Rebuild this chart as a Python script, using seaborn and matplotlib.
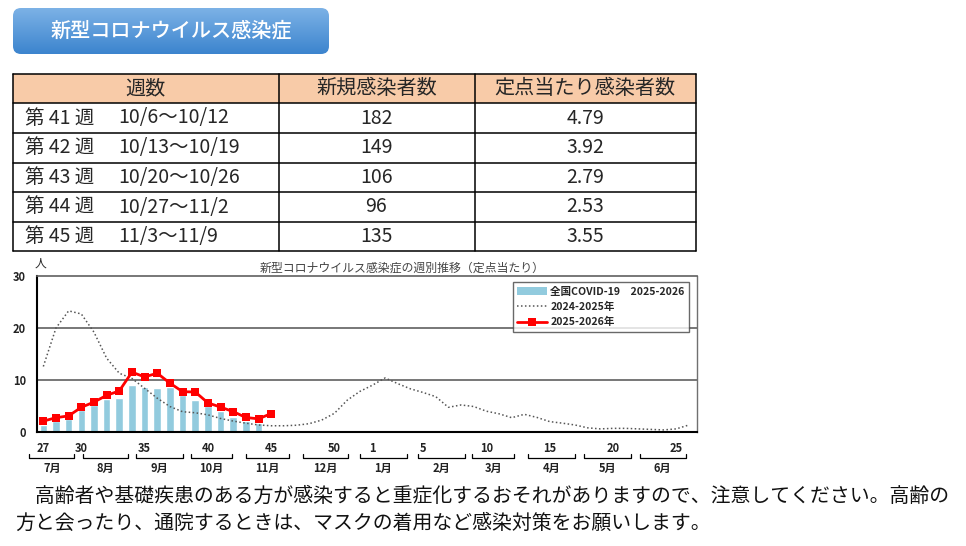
import numpy as np
import pandas as pd
import matplotlib
matplotlib.use("Agg")
import matplotlib.pyplot as plt
import matplotlib.transforms as mtransforms
from matplotlib.patches import FancyBboxPatch, Rectangle, Patch
from matplotlib.lines import Line2D
from matplotlib.colors import LinearSegmentedColormap
import seaborn as sns

# --- data -------------------------------------------------------------
table_weeks = ["第 41 週", "第 42 週", "第 43 週", "第 44 週", "第 45 週"]
table_dates = ["10/6～10/12", "10/13～10/19", "10/20～10/26", "10/27～11/2", "11/3～11/9"]
new_cases = [182, 149, 106, 96, 135]
per_sentinel = ["4.79", "3.92", "2.79", "2.53", "3.55"]

weeks = list(range(27, 53)) + list(range(1, 27))
labeled_weeks = [27, 30, 35, 40, 45, 50, 1, 5, 10, 15, 20, 25]

# national per-sentinel, weeks 27-44
covid_national = [1.35, 2.1, 2.5, 4.2, 5.1, 6.35, 6.55, 9.0, 8.6, 8.4, 8.7, 7.1,
                  6.15, 5.0, 4.0, 2.95, 2.1, 1.8]
# 2024-2025 season, weeks 27-52, 1-26
season_2425 = [12.6, 20.0, 23.3, 22.7, 19.2, 14.2, 11.3, 10.3, 8.4, 6.5, 4.9, 3.9,
               3.7, 3.3, 2.6, 2.1, 1.7, 1.35, 1.2, 1.2, 1.3, 1.6, 2.3, 3.6, 6.1, 7.8,
               9.0, 10.4, 9.3, 8.3, 7.6, 6.8, 4.75, 5.2, 4.9, 4.0, 3.5, 2.75, 3.4, 2.8,
               2.0, 1.7, 1.35, 0.8, 0.6, 0.7, 0.7, 0.6, 0.5, 0.4, 0.6, 1.35]
# 2025-2026 season, weeks 27-45
season_2526 = [2.1, 2.75, 3.1, 4.75, 5.75, 7.05, 7.9, 11.5, 10.6, 11.3, 9.4, 7.75,
               7.7, 5.6, 4.79, 3.92, 2.79, 2.53, 3.55]

months = ["7月", "8月", "9月", "10月", "11月", "12月", "1月", "2月", "3月", "4月", "5月", "6月"]
month_spans = [(-1.1, 2.45), (3.1, 6.65), (7.35, 11.0), (11.7, 14.9), (16.05, 19.4),
               (20.5, 24.1), (25.0, 28.7), (29.6, 33.3), (33.9, 37.2), (38.3, 42.0),
               (42.7, 46.4), (47.1, 50.75)]

sns.set_style("white")
plt.rcParams["font.family"] = ["Noto Sans CJK JP", "DejaVu Sans"]

W, H = 966, 546
fig = plt.figure(figsize=(W / 100, H / 100), dpi=100)

# --- overlay in pixel coords for header / table / note ---------------
ov = fig.add_axes([0, 0, 1, 1])
ov.axis("off")

btn = FancyBboxPatch((13, 8), 316, 46, boxstyle="round,pad=0,rounding_size=8",
                     facecolor="none", edgecolor="none")
ov.add_patch(btn)
grad = np.linspace(0, 1, 100).reshape(-1, 1)
cmap = LinearSegmentedColormap.from_list("btn", ["#7cb2e6", "#3c84ce"])
im = ov.imshow(grad, extent=(13, 329, 54, 8), cmap=cmap, aspect="auto", origin="upper")
im.set_clip_path(btn)
ov.text(171, 31, "新型コロナウイルス感染症", color="white", fontsize=14.5,
        ha="center", va="center", fontweight="medium")

# table
tx0, tx1 = 13, 696
col_x = [13, 278.5, 474.5, 696]
row_y = [74, 103.3, 132.7, 162.7, 192.3, 221.7, 250.5]
ov.add_patch(Rectangle((tx0, row_y[0]), tx1 - tx0, row_y[1] - row_y[0],
                       facecolor="#f8cba8", edgecolor="none"))
for y in row_y:
    ov.plot([tx0, tx1], [y, y], color="black", lw=1.1)
for x in col_x:
    ov.plot([x, x], [row_y[0], row_y[-1]], color="black", lw=1.1)
headers = ["週数", "新規感染者数", "定点当たり感染者数"]
for i, h in enumerate(headers):
    ov.text((col_x[i] + col_x[i + 1]) / 2, (row_y[0] + row_y[1]) / 2, h,
            fontsize=14.5, ha="center", va="center")
for r in range(len(table_weeks)):
    yc = (row_y[r + 1] + row_y[r + 2]) / 2
    ov.text(25, yc, table_weeks[r], fontsize=14, ha="left", va="center")
    ov.text(118, yc, table_dates[r], fontsize=14, ha="left", va="center")
    ov.text((col_x[1] + col_x[2]) / 2, yc, str(new_cases[r]), fontsize=14,
            ha="center", va="center")
    ov.text((col_x[2] + col_x[3]) / 2, yc, per_sentinel[r], fontsize=14,
            ha="center", va="center")

# note text
ov.text(15, 496, "　高齢者や基礎疾患のある方が感染すると重症化するおそれがありますので、注意してください。高齢の",
        fontsize=14.3, ha="left", va="center", color="#111111")
ov.text(15, 523, "方と会ったり、通院するときは、マスクの着用など感染対策をお願いします。",
        fontsize=14.3, ha="left", va="center", color="#111111")

# chart title & unit
ov.text(402, 268, "新型コロナウイルス感染症の週別推移（定点当たり）", fontsize=8.6,
        color="#444444", ha="center", va="center")
ov.text(40, 263, "人", fontsize=8.5, ha="center", va="center")

ov.set_xlim(0, W)
ov.set_ylim(H, 0)

# --- chart ----------------------------------------------------------
ax = fig.add_axes([37 / W, 1 - 432 / H, (696.5 - 37) / W, 156 / H])
ax.set_facecolor("white")

pos = np.arange(len(weeks))
df_bar = pd.DataFrame({"pos": pos[:len(covid_national)], "val": covid_national})
sns.barplot(data=df_bar, x="pos", y="val", native_scale=True, color="#92cbde",
            saturation=1, width=0.6, errorbar=None, ax=ax, zorder=2)
sns.lineplot(x=pos, y=season_2425, ax=ax, color="#555555", lw=1.1,
             linestyle=(0, (1, 1.6)), zorder=3)
sns.lineplot(x=pos[:len(season_2526)], y=season_2526, ax=ax, color="#ff0000",
             lw=2, marker="s", markersize=6, markeredgewidth=0, zorder=4)

for yv in [10, 20]:
    ax.axhline(yv, color="#606060", lw=1.2, zorder=1)

ax.set_xlim(-0.5, 51.6)
ax.set_ylim(0, 30)
ax.set_yticks([0, 10, 20, 30])
ax.set_xticks([weeks.index(w) for w in labeled_weeks])
ax.set_xticklabels([str(w) for w in labeled_weeks])
ax.set_xticks(pos, minor=True)
ax.tick_params(axis="x", which="both", direction="in", length=3, width=1,
               color="black", pad=7, labelsize=8)
ax.tick_params(axis="y", direction="out", length=2, width=1, pad=6, labelsize=8)
ax.set_xlabel("")
ax.set_ylabel("")
for lab in ax.get_xticklabels() + ax.get_yticklabels():
    lab.set_fontweight("bold")
    lab.set_color("#222222")

ax.spines["left"].set_color("black")
ax.spines["left"].set_linewidth(1.5)
ax.spines["bottom"].set_color("black")
ax.spines["bottom"].set_linewidth(1.5)
ax.spines["top"].set_color("#606060")
ax.spines["top"].set_linewidth(1.2)
ax.spines["right"].set_color("#707070")
ax.spines["right"].set_linewidth(1.0)

# month brackets under the axis
trans = mtransforms.blended_transform_factory(ax.transData, ax.transAxes)
yb = -26 / 156
yt = -22 / 156
for name, (s, e) in zip(months, month_spans):
    ax.plot([s, s, e, e], [yt, yb, yb, yt], color="black", lw=0.9,
            transform=trans, clip_on=False)
    ax.text((s + e) / 2, -36 / 156, name, transform=trans, fontsize=8,
            fontweight="bold", color="#222222", ha="center", va="center")

handles = [
    Patch(facecolor="#92cbde", edgecolor="none", label="全国COVID-19　2025-2026"),
    Line2D([0], [0], color="#555555", lw=1.1, linestyle=(0, (1, 1.6)), label="2024-2025年"),
    Line2D([0], [0], color="#ff0000", lw=2, marker="s", markersize=6,
           markeredgewidth=0, label="2025-2026年"),
]
leg = ax.legend(handles=handles, loc="upper right", bbox_to_anchor=(0.989, 0.963),
                fontsize=7.6, frameon=True, fancybox=False, borderpad=0.45,
                labelspacing=0.5, handlelength=2.8, handletextpad=0.3,
                borderaxespad=0)
leg.get_frame().set_edgecolor("#444444")
leg.get_frame().set_linewidth(1.0)
for t in leg.get_texts():
    t.set_fontweight("bold")

fig.savefig("out.png", dpi=100)
